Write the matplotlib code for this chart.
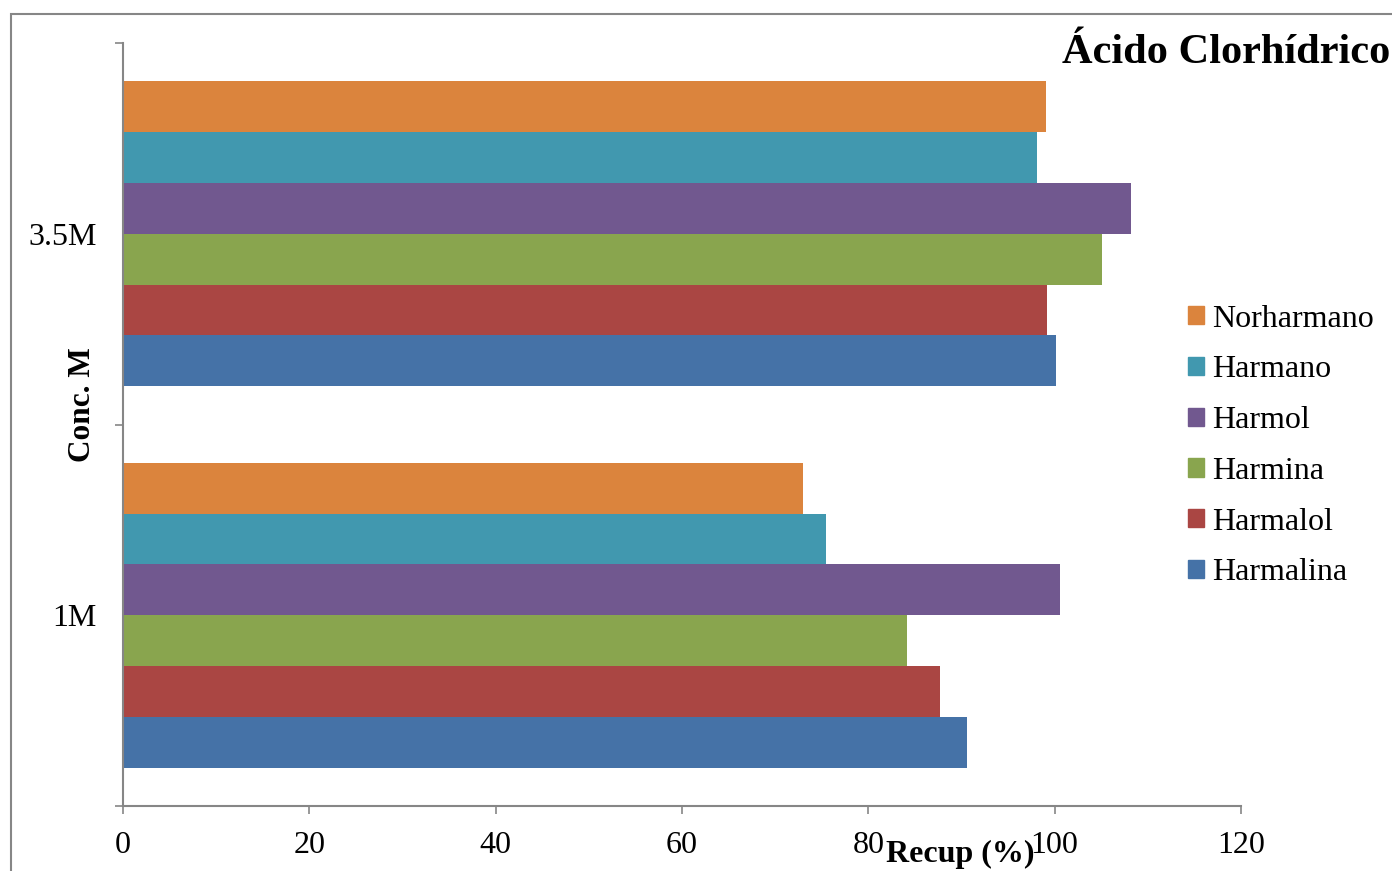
import matplotlib
matplotlib.use('Agg')
import matplotlib.pyplot as plt
from matplotlib.patches import Rectangle, Patch
import numpy as np

plt.rcParams['font.family'] = ['Liberation Serif', 'DejaVu Serif']

categories = ['1M', '3.5M']
# series in plotting order (bottom to top inside each group)
series_names = ['Harmalina', 'Harmalol', 'Harmina', 'Harmol', 'Harmano', 'Norharmano']
series_colors = ['#4572A7', '#AA4643', '#89A54E', '#71588F', '#4198AF', '#DB843D']
harmalina = [90.6, 100.1]
harmalol = [87.7, 99.2]
harmina = [84.1, 105.1]
harmol = [100.6, 108.2]
harmano = [75.5, 98.1]
norharmano = [73.0, 99.1]
values = [harmalina, harmalol, harmina, harmol, harmano, norharmano]

x_ticks = [0, 20, 40, 60, 80, 100, 120]
grey = '#868686'

fig = plt.figure(figsize=(13.92, 8.71), dpi=100)
ax = fig.add_axes([123 / 1392, 1 - 806 / 871, (1241 - 123) / 1392, (806 - 43) / 871])

n = len(series_names)
h = 1.0 / (n + 1.5)
pos = np.arange(len(categories))
for i, (name, vals, col) in enumerate(zip(series_names, values, series_colors)):
    off = (i - (n - 1) / 2) * h
    ax.barh(pos + off, vals, height=h, color=col, label=name, linewidth=0)

ax.set_xlim(0, 120)
ax.set_ylim(-0.5, 1.5)
ax.set_xticks(x_ticks)
ax.set_xticklabels([str(t) for t in x_ticks], fontsize=23)
ax.set_yticks([-0.5, 0.5, 1.5])
ax.set_yticklabels(['', '', ''])
ax.set_yticks(pos, minor=True)
ax.set_yticklabels(categories, minor=True, fontsize=23)
ax.tick_params(axis='y', which='minor', length=0, pad=19)
ax.tick_params(axis='both', which='major', length=6, width=1.2, color=grey)
ax.tick_params(axis='x', pad=12)

for s in ['top', 'right']:
    ax.spines[s].set_visible(False)
for s in ['left', 'bottom']:
    ax.spines[s].set_color(grey)
    ax.spines[s].set_linewidth(1.5)

# axis titles, placed like the original export
fig.text(960 / 1392, 1 - 862 / 871, 'Recup (%)', fontsize=23, fontweight='bold',
         ha='center', va='baseline')
fig.text(83 / 1392, 1 - 405 / 871, 'Conc. M', fontsize=22.5, fontweight='bold',
         rotation=90, ha='center', va='center')
fig.text(1062 / 1392, 1 - 63 / 871, 'Ácido Clorhídrico', fontsize=30.5, fontweight='bold',
         ha='left', va='baseline')

handles = [Patch(color=c, label=nm) for nm, c in zip(series_names[::-1], series_colors[::-1])]
fig.legend(handles=handles, loc='center left', bbox_to_anchor=(1188 / 1392, 1 - 446 / 871),
           frameon=False, fontsize=23, handlelength=0.5, handleheight=0.5,
           handletextpad=0.25, labelspacing=0.68, borderpad=0, borderaxespad=0)

# outer chart frame
fig.patches.append(Rectangle((11 / 1392, -0.1), 2.0, (871 - 14) / 871 + 0.1,
                             transform=fig.transFigure, fill=False,
                             edgecolor=grey, linewidth=1.5))

fig.savefig('out.png', dpi=100)
